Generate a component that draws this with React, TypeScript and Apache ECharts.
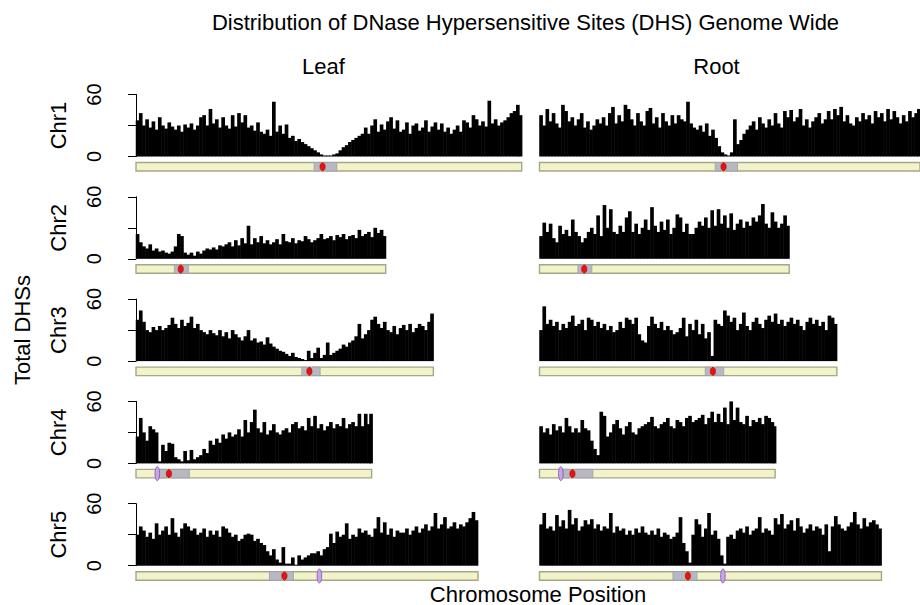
import React, { useEffect, useRef } from 'react';
import * as echarts from 'echarts';

// ---------------- data ----------------
const chromosomes = ['Chr1', 'Chr2', 'Chr3', 'Chr4', 'Chr5'];
const tissues = ['Leaf', 'Root'];
const chrLengthMb = [30.43, 19.7, 23.46, 18.59, 26.98];
const binMb = 0.25;
const yTicks = [0, 30, 60];

// DHS counts per 0.25 Mb bin
const leafChr1 = [35, 42, 30, 36, 28, 34, 26, 38, 30, 27, 33, 29, 26, 30, 24, 31, 28, 32, 26, 30, 38, 40, 30, 46, 32, 36, 28, 38, 30, 27, 40, 29, 42, 33, 40, 28, 30, 25, 33, 24, 22, 26, 20, 53, 24, 30, 22, 31, 18, 20, 15, 17, 14, 12, 10, 8, 6, 4, 2, 1, 1, 1, 2, 3, 6, 9, 11, 14, 16, 18, 20, 22, 28, 22, 30, 36, 24, 31, 26, 34, 38, 27, 35, 24, 26, 33, 22, 30, 32, 25, 28, 35, 24, 29, 33, 26, 32, 24, 28, 22, 26, 30, 24, 35, 33, 28, 40, 36, 30, 34, 29, 54, 32, 36, 30, 33, 35, 38, 42, 44, 50, 40];
const rootChr1 = [40, 30, 46, 34, 42, 32, 28, 50, 44, 34, 38, 30, 36, 42, 28, 34, 26, 30, 36, 32, 38, 30, 42, 48, 32, 40, 34, 50, 46, 36, 30, 42, 34, 30, 44, 47, 32, 38, 28, 42, 34, 30, 40, 32, 40, 36, 34, 53, 32, 28, 26, 30, 24, 32, 20, 26, 18, 10, 4, 2, 1, 4, 36, 12, 16, 22, 26, 30, 34, 26, 38, 32, 28, 36, 30, 42, 32, 28, 44, 38, 45, 34, 38, 46, 30, 36, 28, 34, 38, 42, 32, 36, 44, 36, 46, 40, 48, 34, 40, 32, 30, 38, 34, 42, 36, 40, 32, 44, 38, 42, 34, 46, 36, 44, 38, 32, 40, 34, 44, 38, 42, 46];
const leafChr2 = [24, 16, 12, 10, 14, 8, 10, 7, 8, 6, 5, 7, 12, 24, 22, 6, 4, 6, 3, 7, 5, 8, 10, 9, 11, 9, 13, 12, 14, 16, 12, 18, 13, 20, 15, 32, 14, 20, 16, 22, 15, 18, 14, 16, 19, 14, 24, 17, 16, 20, 15, 18, 17, 22, 19, 16, 18, 20, 24, 19, 20, 22, 18, 23, 21, 24, 19, 22, 23, 20, 28, 22, 24, 26, 21, 30, 25, 28, 22];
const rootChr2 = [22, 35, 26, 34, 20, 16, 32, 24, 28, 22, 38, 26, 22, 16, 20, 26, 30, 24, 42, 22, 52, 30, 48, 26, 24, 32, 26, 40, 46, 26, 34, 24, 30, 38, 28, 50, 32, 26, 36, 28, 38, 24, 30, 43, 40, 26, 34, 24, 24, 30, 36, 32, 40, 30, 47, 32, 48, 34, 42, 30, 44, 28, 34, 38, 30, 36, 32, 40, 36, 42, 53, 34, 30, 45, 36, 30, 34, 42, 32];
const leafChr3 = [40, 49, 38, 30, 28, 33, 30, 34, 30, 32, 35, 42, 36, 32, 40, 34, 37, 43, 32, 36, 30, 28, 26, 30, 27, 25, 30, 24, 28, 22, 30, 26, 23, 20, 24, 30, 20, 22, 18, 19, 16, 23, 17, 14, 12, 10, 9, 7, 5, 8, 4, 3, 2, 1, 10, 3, 8, 13, 3, 6, 18, 6, 8, 10, 12, 16, 14, 18, 20, 24, 36, 22, 26, 30, 40, 43, 36, 32, 38, 30, 28, 34, 26, 32, 35, 30, 36, 28, 32, 36, 34, 30, 38, 46];
const rootChr3 = [30, 53, 36, 40, 34, 38, 30, 36, 32, 38, 44, 34, 36, 40, 30, 42, 40, 34, 38, 32, 36, 30, 34, 28, 30, 38, 32, 42, 40, 36, 42, 26, 20, 18, 34, 43, 36, 32, 38, 30, 34, 30, 26, 28, 32, 42, 24, 36, 30, 40, 26, 36, 22, 28, 5, 40, 36, 34, 49, 44, 38, 42, 30, 36, 47, 34, 30, 38, 42, 36, 32, 40, 44, 38, 46, 36, 40, 34, 38, 42, 36, 40, 34, 30, 38, 42, 36, 40, 34, 38, 30, 44, 42, 36];
const leafChr4 = [26, 44, 30, 22, 36, 33, 30, 2, 18, 12, 20, 19, 6, 4, 2, 12, 3, 13, 4, 6, 8, 14, 10, 22, 18, 24, 20, 28, 24, 30, 26, 28, 33, 26, 42, 30, 40, 52, 34, 30, 40, 28, 32, 38, 30, 28, 32, 34, 30, 38, 40, 34, 36, 32, 44, 36, 46, 34, 38, 32, 36, 40, 34, 38, 36, 44, 34, 38, 40, 36, 48, 36, 48, 38, 48];
const rootChr4 = [36, 30, 34, 28, 38, 32, 36, 30, 44, 36, 30, 34, 30, 42, 34, 32, 22, 14, 8, 50, 46, 26, 30, 38, 42, 34, 28, 36, 40, 30, 28, 34, 36, 38, 40, 45, 36, 34, 38, 40, 44, 36, 34, 42, 40, 36, 44, 46, 40, 42, 44, 47, 38, 44, 50, 40, 48, 40, 54, 38, 60, 42, 54, 40, 38, 46, 36, 42, 40, 44, 38, 46, 44, 40, 36];
const leafChr5 = [30, 38, 34, 28, 32, 26, 41, 30, 34, 38, 30, 46, 32, 28, 36, 41, 38, 34, 36, 30, 32, 36, 28, 34, 30, 34, 28, 38, 36, 32, 28, 30, 24, 26, 30, 31, 30, 24, 26, 22, 20, 14, 10, 16, 6, 3, 18, 2, 2, 8, 1, 10, 6, 8, 10, 12, 12, 14, 10, 16, 18, 31, 22, 33, 28, 30, 41, 26, 30, 28, 36, 32, 34, 30, 28, 36, 47, 32, 42, 30, 36, 28, 34, 32, 32, 36, 30, 34, 38, 32, 36, 40, 34, 38, 51, 36, 40, 47, 36, 38, 42, 36, 40, 38, 42, 46, 52, 44];
const rootChr5 = [40, 51, 36, 38, 34, 49, 38, 44, 36, 54, 40, 46, 34, 38, 44, 40, 45, 36, 40, 34, 38, 36, 51, 32, 38, 34, 36, 30, 34, 30, 36, 32, 38, 32, 30, 34, 30, 36, 28, 32, 30, 26, 28, 32, 47, 22, 14, 3, 30, 45, 40, 28, 36, 51, 30, 34, 26, 10, 2, 28, 30, 26, 34, 36, 32, 38, 30, 34, 36, 47, 32, 36, 34, 30, 46, 40, 50, 36, 40, 44, 34, 46, 38, 32, 36, 40, 34, 38, 36, 30, 40, 14, 38, 48, 40, 36, 34, 38, 42, 52, 40, 36, 46, 38, 42, 44, 40, 36];

const leafSeries = [leafChr1, leafChr2, leafChr3, leafChr4, leafChr5];
const rootSeries = [rootChr1, rootChr2, rootChr3, rootChr4, rootChr5];

// ideogram landmarks (Mb)
const cenStartMb = [14.05, 3.03, 13.08, 1.84, 10.53];
const cenEndMb = [15.84, 4.13, 14.53, 4.21, 12.42];
const cenMidMb = [14.72, 3.53, 13.68, 2.6, 11.71];
const knobMb: (number | null)[] = [null, null, null, 1.68, 14.47];

// ---------------- layout ----------------
const PX_PER_MB = 12.675;
const COL_X = [136, 539.5];
const ROW_BASE = [156.5, 258.8, 361.1, 463.4, 565.7];
const PLOT_H = 62;
const FONT = "'Liberation Sans', Arial, Helvetica, sans-serif";

function buildOption() {
  const grid: any[] = [];
  const xAxis: any[] = [];
  const yAxis: any[] = [];
  const series: any[] = [];
  let gi = 0;
  tissues.forEach((_t, ti) => {
    chromosomes.forEach((_c, ri) => {
      const len = chrLengthMb[ri];
      const vals = (ti === 0 ? leafSeries : rootSeries)[ri];
      grid.push({
        left: COL_X[ti],
        top: ROW_BASE[ri] - PLOT_H,
        width: len * PX_PER_MB,
        height: PLOT_H,
      });
      xAxis.push({ gridIndex: gi, type: 'value', min: 0, max: len, show: false });
      yAxis.push({
        gridIndex: gi,
        type: 'value',
        min: yTicks[0],
        max: yTicks[yTicks.length - 1],
        interval: yTicks[1] - yTicks[0],
        show: ti === 0,
        offset: 15.3,
        axisLine: { show: true, lineStyle: { color: '#000', width: 1 } },
        axisTick: { show: true, length: 8, lineStyle: { color: '#000', width: 1 } },
        axisLabel: {
          show: true,
          rotate: 90,
          margin: 17,
          fontSize: 20,
          fontFamily: FONT,
          color: '#000',
          showMinLabel: true,
          showMaxLabel: true,
          formatter: (v: number) => (v === yTicks[1] ? '' : String(v)),
        },
        splitLine: { show: false },
      });
      const data = vals.map((v, i) => {
        const s = i * binMb;
        const e = Math.min((i + 1) * binMb, len);
        return [(s + e) / 2, v];
      });
      series.push({
        type: 'bar',
        xAxisIndex: gi,
        yAxisIndex: gi,
        data,
        barWidth: binMb * PX_PER_MB + 0.5,
        itemStyle: { color: '#000' },
        silent: true,
      });
      const row = ri;
      series.push({
        type: 'custom',
        xAxisIndex: gi,
        yAxisIndex: gi,
        data: [[0, 0]],
        silent: true,
        clip: false,
        renderItem: (_p: any, api: any) => {
          const p0 = api.coord([0, 0]);
          const p1 = api.coord([chrLengthMb[row], 0]);
          const top = p0[1] + 6;
          const h = 8.5;
          const mid = top + h / 2;
          const cs = api.coord([cenStartMb[row], 0])[0];
          const ce = api.coord([cenEndMb[row], 0])[0];
          const cm = api.coord([cenMidMb[row], 0])[0];
          const children: any[] = [
            {
              type: 'rect',
              shape: { x: p0[0], y: top, width: p1[0] - p0[0], height: h },
              style: { fill: '#F3F3C9', stroke: '#A6A68A', lineWidth: 1.4 },
            },
            {
              type: 'polygon',
              shape: { points: [[cs, top], [cm - 3.2, top], [cm - 1.2, mid], [cm - 3.2, top + h], [cs, top + h]] },
              style: { fill: '#B8B8C2', stroke: '#9E9EAA', lineWidth: 0.8 },
            },
            {
              type: 'polygon',
              shape: { points: [[ce, top], [cm + 3.2, top], [cm + 1.2, mid], [cm + 3.2, top + h], [ce, top + h]] },
              style: { fill: '#B8B8C2', stroke: '#9E9EAA', lineWidth: 0.8 },
            },
            {
              type: 'ellipse',
              shape: { cx: cm, cy: mid, rx: 2.6, ry: 4 },
              style: { fill: '#EE1111', stroke: '#A00000', lineWidth: 0.6 },
            },
          ];
          const k = knobMb[row];
          if (k !== null) {
            const kx = api.coord([k, 0])[0];
            children.push({
              type: 'ellipse',
              shape: { cx: kx, cy: mid, rx: 2.3, ry: 7 },
              style: { fill: '#C6A6E6', stroke: '#8052B8', lineWidth: 0.8 },
            });
          }
          return { type: 'group', children };
        },
      });
      gi++;
    });
  });

  const txt = (text: string, x: number, y: number, size: number, rotation = 0) => ({
    type: 'text',
    x,
    y,
    rotation,
    silent: true,
    style: {
      text,
      fontSize: size,
      fontFamily: FONT,
      fill: '#000',
      align: 'center',
      verticalAlign: 'middle',
      textAlign: 'center',
      textVerticalAlign: 'middle',
    },
  });

  const graphic: any[] = [
    txt('Distribution of DNase Hypersensitive Sites (DHS) Genome Wide', 525.5, 22, 22),
    txt(tissues[0], 323.5, 66, 22),
    txt(tissues[1], 716.5, 66, 22),
    txt('Total DHSs', 22, 330, 22, Math.PI / 2),
    txt('Chromosome Position', 538, 594, 22),
  ];
  chromosomes.forEach((c, ri) => {
    graphic.push(txt(c, 58.5, ROW_BASE[ri] - PLOT_H / 2, 22, Math.PI / 2));
  });

  return {
    animation: false,
    backgroundColor: '#fff',
    grid,
    xAxis,
    yAxis,
    series,
    graphic,
  };
}

export default function App() {
  const ref = useRef<HTMLDivElement>(null);
  useEffect(() => {
    document.body.style.margin = '0';
    if (!ref.current) return;
    const chart = echarts.init(ref.current, null, { renderer: 'svg' });
    chart.setOption(buildOption() as any);
    return () => chart.dispose();
  }, []);
  return <div ref={ref} style={{ width: 920, height: 605 }} />;
}
